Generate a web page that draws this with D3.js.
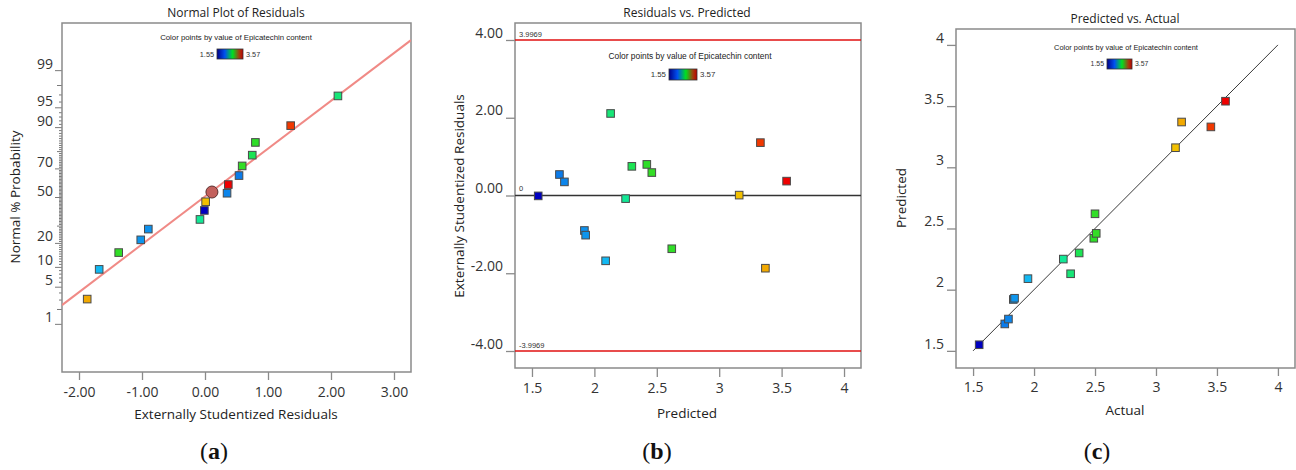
<!DOCTYPE html>
<html>
<head>
<meta charset="utf-8">
<script src="https://cdn.jsdelivr.net/npm/d3@7"></script>
<style>
  body { margin: 0; background: #fff; }
  svg { display: block; font-family: "Open Sans", "Noto Sans", sans-serif; }
</style>
</head>
<body>
<svg id="chart" width="1296" height="470"></svg>
<script>
// runs of the design (16)
const actual    = [1.55, 1.76, 1.79, 1.83, 1.84, 1.95, 2.30, 2.24, 2.37, 2.49, 2.51, 2.50, 3.16, 3.45, 3.21, 3.57];
const predicted = [1.55, 1.72, 1.76, 1.92, 1.93, 2.09, 2.13, 2.25, 2.30, 2.42, 2.46, 2.62, 3.16, 3.33, 3.37, 3.54];
const residuals = [-0.01, 0.54, 0.35, -0.90, -1.02, -1.68, 2.11, -0.08, 0.75, 0.80, 0.59, -1.37, 0.01, 1.36, -1.87, 0.37];

// normal plot extras
const normLine = { intercept: 0.018, slope: 0.877 };   // z = a + b * residual
const centerMark = { resid: 0.11, pct: 54 };
const probLabels = [1, 5, 10, 20, 50, 70, 90, 95, 99];
const probMid = [2, 30, 80, 98];

// residuals vs predicted
const limitHi = 3.9969, limitLo = -3.9969;
const residTicks = [-4, -2, 0, 2, 4];
const predTicks = [1.5, 2, 2.5, 3, 3.5, 4];

const colorMin = 1.55, colorMax = 3.57;
const colorStops = [1.55, 1.72, 1.95, 2.24, 2.45, 3.16, 3.57];
const colorRange = ["#0000c0", "#0a6ee8", "#12b8f2", "#12e896", "#22e02a", "#f2c000", "#f00000"];

const svg = d3.select("#chart");
const color = d3.scaleLinear().domain(colorStops).range(colorRange);

const runs = actual.map((a, i) => ({ a: a, p: predicted[i], r: residuals[i] }));

// inverse normal cdf (Acklam)
function probit(p) {
    const a = [-3.969683028665376e+01, 2.209460984245205e+02, -2.759285104469687e+02, 1.383577518672690e+02, -3.066479806614716e+01, 2.506628277459239e+00];
    const b = [-5.447609879822406e+01, 1.615858368580409e+02, -1.556989798598866e+02, 6.680131188771972e+01, -1.328068155288572e+01];
    const c = [-7.784894002430293e-03, -3.223964580411365e-01, -2.400758277161838e+00, -2.549732539343734e+00, 4.374664141464968e+00, 2.938163982698783e+00];
    const d = [7.784695709041462e-03, 3.224671290700398e-01, 2.445134137142996e+00, 3.754408661907416e+00];
    const pl = 0.02425;
    let q, r;
    if (p < pl) {
        q = Math.sqrt(-2 * Math.log(p));
        return (((((c[0]*q+c[1])*q+c[2])*q+c[3])*q+c[4])*q+c[5]) / ((((d[0]*q+d[1])*q+d[2])*q+d[3])*q+1);
    }
    if (p > 1 - pl) {
        q = Math.sqrt(-2 * Math.log(1 - p));
        return -(((((c[0]*q+c[1])*q+c[2])*q+c[3])*q+c[4])*q+c[5]) / ((((d[0]*q+d[1])*q+d[2])*q+d[3])*q+1);
    }
    q = p - 0.5; r = q * q;
    return (((((a[0]*r+a[1])*r+a[2])*r+a[3])*r+a[4])*r+a[5])*q / (((((b[0]*r+b[1])*r+b[2])*r+b[3])*r+b[4])*r+1);
}

// gradient for the little colour key
const grad = svg.append("defs").append("linearGradient").attr("id", "keygrad");
[[0, "#000088"], [0.3, "#0050f0"], [0.6, "#00e020"], [0.85, "#a04010"], [1, "#c00000"]].forEach(s => {
    grad.append("stop").attr("offset", s[0]).attr("stop-color", s[1]);
});

function frame(b) {
    svg.append("rect")
        .attr("x", b.left).attr("y", b.top)
        .attr("width", b.right - b.left).attr("height", b.bottom - b.top)
        .attr("fill", "none").attr("stroke", "#8a8a8a").attr("stroke-width", 1.5);
}

function title(txt, x, y) {
    svg.append("text").attr("x", x).attr("y", y).attr("text-anchor", "middle")
        .attr("font-size", 12).attr("fill", "#222").text(txt);
}

function key(cx, ty, bx, by, bw, bh, fs) {
    svg.append("text").attr("x", cx).attr("y", ty).attr("text-anchor", "middle")
        .attr("font-family", "Liberation Sans, Arial, sans-serif")
        .attr("font-size", fs).attr("fill", "#222")
        .text("Color points by value of Epicatechin content");
    svg.append("rect").attr("x", bx).attr("y", by).attr("width", bw).attr("height", bh)
        .attr("fill", "url(#keygrad)").attr("stroke", "#333").attr("stroke-width", 0.8);
    svg.append("text").attr("x", bx - 3).attr("y", by + bh / 2).attr("dy", "0.35em")
        .attr("text-anchor", "end").attr("font-family", "Liberation Sans, Arial, sans-serif")
        .attr("font-size", fs - 0.5).attr("fill", "#333").text(colorMin.toFixed(2));
    svg.append("text").attr("x", bx + bw + 3).attr("y", by + bh / 2).attr("dy", "0.35em")
        .attr("font-family", "Liberation Sans, Arial, sans-serif")
        .attr("font-size", fs - 0.5).attr("fill", "#333").text(colorMax.toFixed(2));
}

function styleAxis(g) {
    g.select(".domain").remove();
    g.selectAll("line").attr("stroke", "#8a8a8a").attr("stroke-width", 1.3);
    g.selectAll("text").attr("font-size", 14).attr("fill", "#333")
        .attr("font-family", "Open Sans, Noto Sans, sans-serif");
}

function squares(g, data, fx, fy) {
    g.selectAll("rect.pt").data(data).enter().append("rect").attr("class", "pt")
        .attr("x", d => fx(d) - 3.8).attr("y", d => fy(d) - 3.8)
        .attr("width", 7.6).attr("height", 7.6)
        .attr("fill", d => color(d.a)).attr("stroke", "#4a4a4a").attr("stroke-width", 1);
}

function panelLabel(letter, x, y) {
    const t = svg.append("text").attr("x", x).attr("y", y).attr("text-anchor", "middle")
        .attr("font-family", "Liberation Serif, DejaVu Serif, serif").attr("font-size", 24).attr("fill", "#111");
    t.append("tspan").text("(");
    t.append("tspan").attr("font-weight", "bold").text(letter);
    t.append("tspan").text(")");
}

function yTitle(txt, x, y) {
    svg.append("text").attr("transform", `translate(${x},${y}) rotate(-90)`)
        .attr("text-anchor", "middle").attr("font-size", 13.5).attr("fill", "#222").text(txt);
}
function xTitle(txt, x, y) {
    svg.append("text").attr("x", x).attr("y", y)
        .attr("text-anchor", "middle").attr("font-size", 13.5).attr("fill", "#222").text(txt);
}

// ---------- (a) normal plot ----------
(function () {
    const b = { left: 62, right: 411, top: 23, bottom: 372 };
    const x = d3.scaleLinear().domain([-2.27, 3.27]).range([b.left, b.right]);
    const z = d3.scaleLinear().domain([-3.2, 3.2]).range([b.bottom, b.top]);
    const n = runs.length;
    const sorted = runs.slice().sort((p, q) => p.r - q.r);
    sorted.forEach((d, i) => { d.z = probit((i + 0.5) / n); });

    title("Normal Plot of Residuals", 236, 17);
    key(236, 40, 217, 49, 26, 10, 7.8);

    const xa = svg.append("g").attr("transform", `translate(0,${b.bottom})`)
        .call(d3.axisBottom(x).tickValues([-2, -1, 0, 1, 2, 3]).tickFormat(d3.format(".2f")).tickSize(8).tickPadding(7));
    styleAxis(xa);
    xa.selectAll("text").text(d => d3.format(".2f")(d).replace("−", "-"));

    // probability ticks
    const ya = svg.append("g");
    d3.range(1, 100).forEach(p => {
        const len = probLabels.includes(p) ? 7 : probMid.includes(p) ? 5 : 3;
        ya.append("line").attr("x1", b.left - len).attr("x2", b.left)
            .attr("y1", z(probit(p / 100))).attr("y2", z(probit(p / 100)))
            .attr("stroke", "#7a7a7a").attr("stroke-width", 1);
    });
    probLabels.forEach(p => {
        ya.append("text").attr("x", b.left - 9).attr("y", z(probit(p / 100)) - 2)
            .attr("text-anchor", "end").attr("font-size", 14).attr("fill", "#333").text(p);
    });

    frame(b);

    svg.append("clipPath").attr("id", "clipA").append("rect")
        .attr("x", b.left).attr("y", b.top).attr("width", b.right - b.left).attr("height", b.bottom - b.top);
    svg.append("line").attr("clip-path", "url(#clipA)")
        .attr("x1", x(-2.27)).attr("y1", z(normLine.intercept + normLine.slope * -2.27))
        .attr("x2", x(3.27)).attr("y2", z(normLine.intercept + normLine.slope * 3.27))
        .attr("stroke", "#f08a86").attr("stroke-width", 2);

    const g = svg.append("g");
    squares(g, sorted, d => x(d.r), d => z(d.z));
    g.append("circle").attr("cx", x(centerMark.resid)).attr("cy", z(probit(centerMark.pct / 100)))
        .attr("r", 6).attr("fill", "#c2605c").attr("stroke", "#5a3030").attr("stroke-width", 1);

    yTitle("Normal % Probability", 20, 197);
    xTitle("Externally Studentized Residuals", 236, 419);
    panelLabel("a", 214, 459);
})();

// ---------- (b) residuals vs predicted ----------
(function () {
    const b = { left: 515, right: 861, top: 23, bottom: 368 };
    const x = d3.scaleLinear().domain([1.364, 4.136]).range([b.left, b.right]);
    const y = d3.scaleLinear().domain([-4.437, 4.437]).range([b.bottom, b.top]);

    title("Residuals vs. Predicted", 687, 17);
    key(690, 59, 669, 69, 28, 11, 8.4);

    const xa = svg.append("g").attr("transform", `translate(0,${b.bottom})`)
        .call(d3.axisBottom(x).tickValues(predTicks).tickFormat(d3.format("")).tickSize(9).tickPadding(6));
    styleAxis(xa);
    const ya = svg.append("g").attr("transform", `translate(${b.left},0)`)
        .call(d3.axisLeft(y).tickValues(residTicks).tickSize(9).tickPadding(3));
    styleAxis(ya);
    ya.selectAll("text").attr("dy", "-0.2em").text(d => d3.format(".2f")(d).replace("−", "-"));

    frame(b);

    [limitHi, limitLo].forEach(v => {
        svg.append("line").attr("x1", b.left).attr("x2", b.right).attr("y1", y(v)).attr("y2", y(v))
            .attr("stroke", "#e01010").attr("stroke-width", 1.5);
        svg.append("text").attr("x", b.left + 4).attr("y", y(v) - 3)
            .attr("font-family", "Liberation Sans, Arial, sans-serif")
            .attr("font-size", 7.5).attr("fill", "#333").text(v.toFixed(4));
    });
    svg.append("line").attr("x1", b.left).attr("x2", b.right).attr("y1", y(0)).attr("y2", y(0))
        .attr("stroke", "#333").attr("stroke-width", 1.5);
    svg.append("text").attr("x", b.left + 4).attr("y", y(0) - 5)
        .attr("font-family", "Liberation Sans, Arial, sans-serif")
        .attr("font-size", 7.5).attr("fill", "#333").text("0");

    squares(svg.append("g"), runs, d => x(d.p), d => y(d.r));

    yTitle("Externally Studentized Residuals", 464, 196);
    xTitle("Predicted", 687, 418);
    panelLabel("b", 657, 459);
})();

// ---------- (c) predicted vs actual ----------
(function () {
    const b = { left: 956, right: 1295, top: 29, bottom: 368 };
    const x = d3.scaleLinear().domain([1.36, 4.14]).range([b.left, b.right]);
    const y = d3.scaleLinear().domain([1.36, 4.13]).range([b.bottom, b.top]);

    title("Predicted vs. Actual", 1125, 23);
    key(1126, 50, 1107, 59, 25, 10, 7.4);

    const xa = svg.append("g").attr("transform", `translate(0,${b.bottom})`)
        .call(d3.axisBottom(x).tickValues(predTicks).tickFormat(d3.format("")).tickSize(8).tickPadding(6));
    styleAxis(xa);
    const ya = svg.append("g").attr("transform", `translate(${b.left},0)`)
        .call(d3.axisLeft(y).tickValues(predTicks).tickFormat(d3.format("")).tickSize(9).tickPadding(3));
    styleAxis(ya);
    ya.selectAll("text").attr("dy", "-0.2em");

    frame(b);

    svg.append("line").attr("x1", x(1.5)).attr("y1", y(1.5)).attr("x2", x(4)).attr("y2", y(4))
        .attr("stroke", "#222").attr("stroke-width", 0.9);

    squares(svg.append("g"), runs, d => x(d.a), d => y(d.p));

    yTitle("Predicted", 906, 198);
    xTitle("Actual", 1125, 415);
    panelLabel("c", 1097, 459);
})();
</script>
</body>
</html>
